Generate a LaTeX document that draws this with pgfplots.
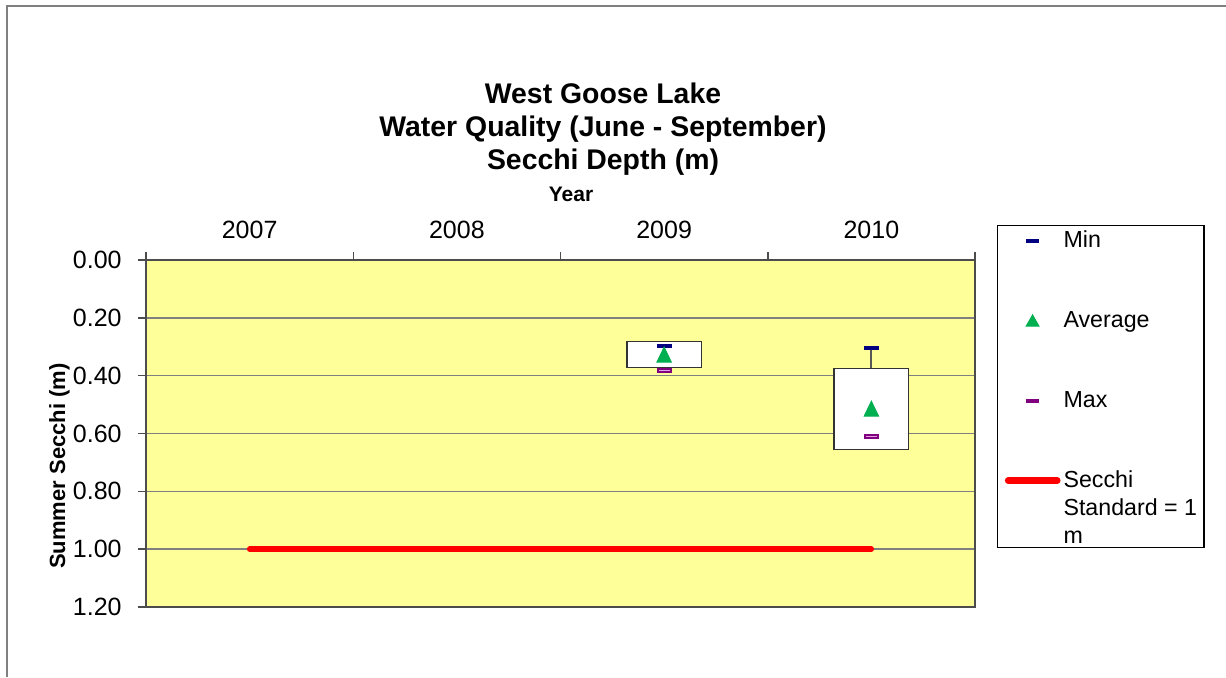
\documentclass[border=0pt]{standalone}
\usepackage{pgfplots}
\pgfplotsset{compat=1.18}
\usepackage{fontspec}
\setmainfont{Liberation Sans}

\definecolor{plotbg}{HTML}{FFFF99}
\definecolor{minblue}{HTML}{000080}
\definecolor{maxpurple}{HTML}{800080}
\definecolor{maxpink}{HTML}{E6A0E6}
\definecolor{avggreen}{HTML}{00B050}

\begin{document}
\begin{tikzpicture}
% page = 1226 x 677 px at 0.5pt per px
\path[use as bounding box] (0,0) rectangle (613pt,-338.5pt);
\draw[gray, line width=1pt] (613pt,-3pt) -- (3.5pt,-3pt) -- (3.5pt,-338.5pt);

\node[font=\bfseries\fontsize{14.2}{16}\selectfont, anchor=base] at (301.5pt,-51.5pt) {West Goose Lake};
\node[font=\bfseries\fontsize{14.2}{16}\selectfont, anchor=base] at (301.5pt,-68.35pt) {Water Quality (June - September)};
\node[font=\bfseries\fontsize{14.2}{16}\selectfont, anchor=base] at (301.5pt,-84.5pt) {Secchi Depth (m)};
\node[font=\bfseries\fontsize{10.5}{12}\selectfont, anchor=base] at (285.5pt,-100.5pt) {Year};
\node[font=\bfseries\fontsize{11}{13}\selectfont, anchor=base, rotate=90] at (32.5pt,-233pt) {Summer Secchi (m)};

\begin{axis}[
    at={(73pt,-130pt)}, anchor=north west,
    scale only axis, width=414.5pt, height=173.5pt,
    xmin=-0.5, xmax=3.5, ymin=0, ymax=1.2,
    y dir=reverse,
    axis background/.style={fill=plotbg},
    /pgf/number format/assume math mode=true,
    xtick={-0.5,0.5,1.5,2.5,3.5},
    xticklabels={,,,,},
    extra x ticks={0,1,2,3},
    extra x tick labels={2007,2008,2009,2010},
    extra x tick style={major tick length=0pt},
    xtick pos=right, xticklabel pos=right,
    x tick label style={anchor=base, inner sep=0pt, yshift=11pt,
        font=\fontsize{12.5}{14}\selectfont},
    ytick={0,0.2,0.4,0.6,0.8,1,1.2},
    ytick pos=left,
    y tick label style={anchor=east, inner sep=0pt, xshift=-8pt,
        font=\fontsize{12.5}{14}\selectfont,
        /pgf/number format/fixed, /pgf/number format/fixed zerofill,
        /pgf/number format/precision=2},
    ymajorgrids,
    grid style={gray, line width=0.75pt},
    tick align=outside, major tick length=4pt,
    tick style={black!70, line width=0.75pt},
    axis line style={black!70, line width=0.9pt},
    legend style={at={(1.0265,1.1009)}, anchor=north west,
        draw=black, line width=0.6pt, fill=white,
        inner xsep=1.75pt, inner ysep=1.5pt,
        row sep=28pt, column sep=1.25pt,
        font=\fontsize{11.6}{14}\selectfont,
        cells={anchor=base west},
        nodes={inner sep=0pt, text height=9.5pt, text depth=2.5pt}},
]

% Secchi standard
\addplot[red, line width=2.7pt, line cap=round, forget plot]
    coordinates {(0,1) (1,1) (2,1) (3,1)};

% whisker 2010
\addplot[black!65, line width=1pt, forget plot]
    coordinates {(3,0.305) (3,0.376)};

% boxes
\addplot[fill=white, draw=black!80, line width=0.75pt, forget plot]
    coordinates {(1.82,0.281) (2.18,0.281) (2.18,0.372) (1.82,0.372)} -- cycle;
\addplot[fill=white, draw=black!80, line width=0.75pt, forget plot]
    coordinates {(2.82,0.376) (3.18,0.376) (3.18,0.655) (2.82,0.655)} -- cycle;

% Min
\addplot[only marks, mark=-, mark size=3.75pt, minblue,
    mark options={line width=2.2pt}, forget plot]
    coordinates {(2,0.297) (3,0.305)};
% Average
\addplot[only marks, mark=triangle*, mark size=4.2pt, avggreen,
    mark options={yshift=-1.26pt, yscale=1.2}, forget plot]
    coordinates {(2,0.327) (3,0.514)};
% Max
\addplot[only marks, mark=-, mark size=3.75pt, maxpurple,
    mark options={line width=2.4pt}, forget plot]
    coordinates {(2,0.381) (3,0.611)};
\addplot[only marks, mark=-, mark size=2.8pt, maxpink,
    mark options={line width=0.6pt}, forget plot]
    coordinates {(2,0.381) (3,0.611)};

\addlegendimage{legend image code/.code={
    \path[draw=none] (0pt,0pt) (30pt,0pt);
    \draw[minblue, line width=2pt] (12.6pt,3.5pt) -- (18.9pt,3.5pt);}}
\addlegendentry{Min}
\addlegendimage{legend image code/.code={
    \path[draw=none] (0pt,0pt) (30pt,0pt);
    \fill[avggreen] (12.65pt,0.75pt) -- (18.85pt,0.75pt) -- (15.75pt,6.25pt) -- cycle;}}
\addlegendentry{Average}
\addlegendimage{legend image code/.code={
    \path[draw=none] (0pt,0pt) (30pt,0pt);
    \draw[maxpurple, line width=2pt] (12.6pt,3.5pt) -- (18.9pt,3.5pt);}}
\addlegendentry{Max}
\addlegendimage{legend image code/.code={
    \path[draw=none] (0pt,0pt) (30pt,0pt);
    \draw[red, line width=3.3pt, line cap=round] (3.55pt,3.5pt) -- (28.1pt,3.5pt);}}
\addlegendentry[text depth=28.5pt]{\parbox[t]{68.5pt}{\raggedright Secchi\\Standard = 1\\m}}
\end{axis}
\end{tikzpicture}
\end{document}
